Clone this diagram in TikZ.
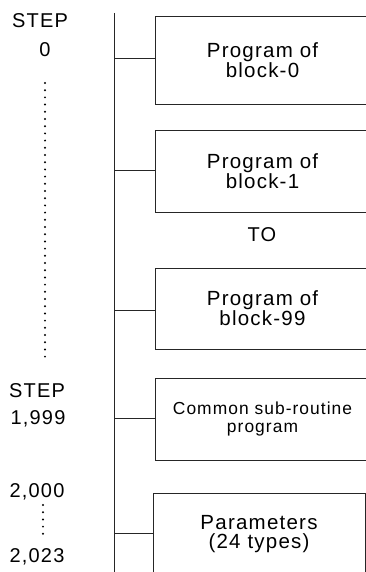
\documentclass[tikz,border=0pt]{standalone}
\usepackage{fontspec}
\setmainfont[LetterSpace=6]{Liberation Sans}
\begin{document}
\begin{tikzpicture}[x=1pt,y=-1pt,
  bus/.style={line width=0.9pt, draw=black!85},
  memblock/.style={draw=black!85, line width=0.9pt, rectangle, anchor=north west,
    inner sep=0pt, outer sep=0pt, align=center,
    font=\fontsize{20.5}{19}\selectfont},
  steplabel/.style={inner sep=0pt, text height=14.5pt, text depth=0pt,
    font=\fontsize{20}{20}\selectfont},
  dotline/.style={line width=2.2pt, line cap=round, dash pattern=on 0pt off 7.2pt}]
\useasboundingbox (0,0) rectangle (366,572);
\clip (0,0) rectangle (366,572);

% memory blocks, open to the right
\node[memblock, minimum width=215pt, minimum height=88pt] (b0) at (155,16)
  {Program of\\block-0};
\node[memblock, minimum width=215pt, minimum height=82pt] (b1) at (155,130)
  {Program of\\block-1};
\node[steplabel] (to) at (262,234) {TO};
\node[memblock, minimum width=215pt, minimum height=81pt] (b99) at (155,268)
  {Program of\\block-99};
\node[memblock, minimum width=215pt, minimum height=82pt,
  font=\fontsize{17.4}{18}\selectfont] (sub) at (155,378)
  {Common sub-routine\\program};
\node[memblock, minimum width=212pt, minimum height=82pt] (par) at (153,493)
  {Parameters\\(24 types)};

% bus line and branches
\coordinate (bustop) at (114,13);
\coordinate (busbot) at (114,572);
\draw[bus] (bustop) -- (busbot);
\coordinate (j0) at (114,58);
\coordinate (j1) at (114,170);
\coordinate (j99) at (114,310);
\coordinate (jsub) at (114,418);
\coordinate (jpar) at (114,533);
\draw[bus] (j0) -- (j0 -| b0.west);
\draw[bus] (j1) -- (j1 -| b1.west);
\draw[bus] (j99) -- (j99 -| b99.west);
\draw[bus] (jsub) -- (jsub -| sub.west);
\draw[bus] (jpar) -- (jpar -| par.west);

% step numbers
\node[steplabel] (stepA) at (40,20.5) {STEP};
\node[steplabel] (zero) at (45,49) {0};
\coordinate (dotsAtop) at (45,83);
\coordinate (dotsAbot) at (45,357);
\draw[dotline] (dotsAtop) -- (dotsAbot);
\node[steplabel] (stepB) at (37,390) {STEP};
\node[steplabel] (n1999) at (38,417) {1,999};
\node[steplabel] (n2000) at (37,490) {2,000};
\coordinate (dotsBtop) at (43,505);
\coordinate (dotsBbot) at (43,534);
\draw[dotline] (dotsBtop) -- (dotsBbot);
\node[steplabel] (n2023) at (37,555) {2,023};
\end{tikzpicture}
\end{document}
